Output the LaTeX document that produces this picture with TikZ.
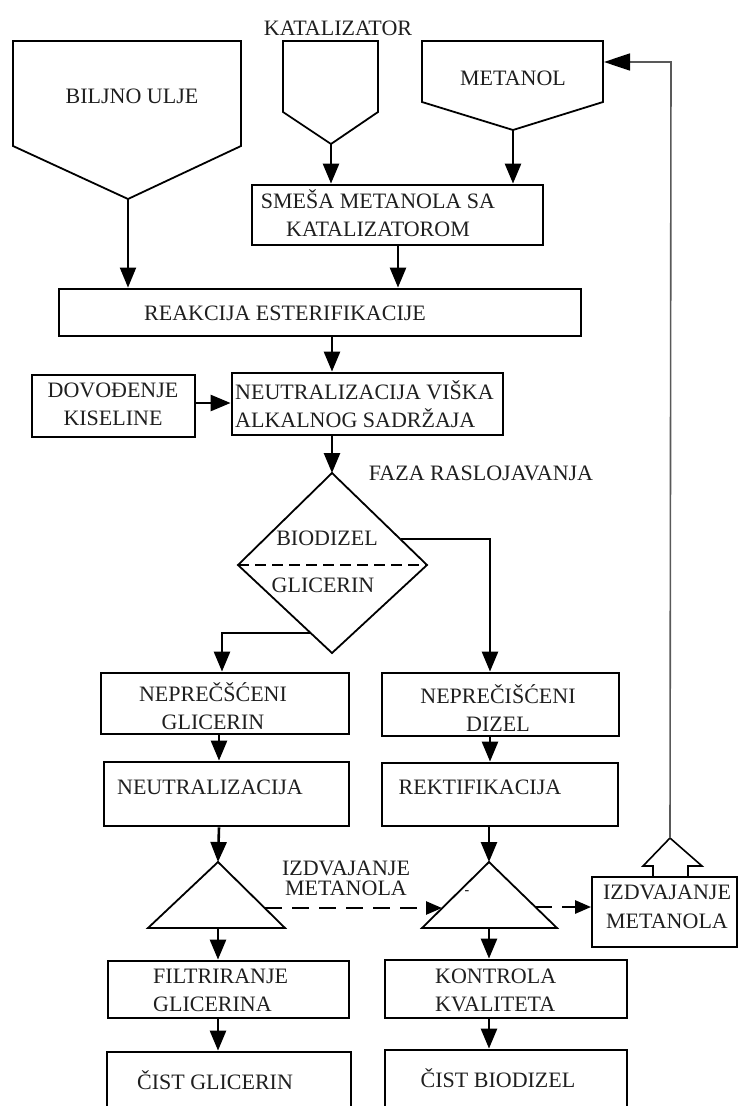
\documentclass[tikz,border=0pt]{standalone}
\usepackage{fontspec}
\setmainfont{Liberation Serif}
\usetikzlibrary{arrows.meta}
\newcommand\myff{\fontsize{22}{28}\selectfont}
\newcommand\myffs{\fontsize{22}{20}\selectfont}
\newcommand\myffw{\fontsize{22}{29}\selectfont}
\tikzset{
  txt/.style={inner sep=0pt, font=\myff, align=center, text=black!88},
  box/.style={draw, line width=2.8pt, inner sep=0pt},
  outl/.style={draw, line width=1.8pt, line join=miter},
  conn/.style={line width=2.6pt, -{Triangle[length=20pt,width=16pt]}},
  dconn/.style={line width=2.6pt, dash pattern=on 17pt off 10pt, -{Triangle[length=16pt,width=13pt]}},
}
\begin{document}
\begin{tikzpicture}[x=1pt,y=-1pt]
\useasboundingbox (0,0) rectangle (739,1106);
\clip (0,0) rectangle (739,1106);
% ---------- pentagons ----------
\coordinate (biB) at (128,199);
\draw[outl] (13,41) -- (241,41) -- (241,146) -- (biB) -- (13,146) -- cycle;
\node[txt] (biljnoT) at (132,96) {BILJNO ULJE};
\coordinate (kaB) at (331,144);
\draw[outl] (283,41) -- (378,41) -- (378,112) -- (kaB) -- (283,112) -- cycle;
\node[txt] (katT) at (338,28) {KATALIZATOR};
\coordinate (meB) at (513,130);
\coordinate (meR) at (604,62);
\draw[outl] (422,41) -- (603,41) -- (603,102) -- (meB) -- (422,102) -- cycle;
\node[txt] (metT) at (513,78) {METANOL};
% ---------- boxes ----------
\node[box, minimum width=291, minimum height=60] (smesa) at (397.5,215) {};
\node[txt] (smesaT) at (378,213) {SMEŠA METANOLA SA\\KATALIZATOROM};
\node[box, minimum width=522, minimum height=47] (reak) at (320,312.5) {};
\node[txt] (reakT) at (285,313) {REAKCIJA ESTERIFIKACIJE};
\node[box, minimum width=271, minimum height=62] (neu1) at (367.5,404) {};
\node[txt, align=left, anchor=west] (neu1T) at (235,404) {NEUTRALIZACIJA VIŠKA\\ALKALNOG SADRŽAJA};
\node[box, minimum width=163, minimum height=62] (dov) at (113.5,406) {};
\node[txt] (dovT) at (113,404) {DOVOĐENJE\\KISELINE};
\node[txt] (fazaT) at (481,473) {FAZA RASLOJAVANJA};
\node[box, minimum width=248, minimum height=61] (nepgl) at (225,703.5) {};
\node[txt] (nepglT) at (213,706) {NEPREČŠĆENI\\GLICERIN};
\node[box, minimum width=237, minimum height=63] (nepdz) at (500.5,704.5) {};
\node[txt] (nepdzT) at (498,708) {NEPREČIŠĆENI\\DIZEL};
\node[box, minimum width=245, minimum height=64] (neu2) at (226.5,794) {};
\node[txt] (neu2T) at (210,787) {NEUTRALIZACIJA};
\node[box, minimum width=236, minimum height=63] (rekt) at (500,794.5) {};
\node[txt] (rektT) at (480,787) {REKTIFIKACIJA};
\node[box, minimum width=241, minimum height=57] (filt) at (228.5,989.5) {};
\node[txt, align=left, anchor=west] (filtT) at (153,990) {FILTRIRANJE\\GLICERINA};
\node[box, minimum width=242, minimum height=58] (kontr) at (506,989) {};
\node[txt, align=left, anchor=west] (kontrT) at (435,990) {KONTROLA\\KVALITETA};
\node[box, minimum width=244, minimum height=74] (cistgl) at (229,1089) {};
\node[txt] (cistglT) at (215,1080) {ČIST GLICERIN};
\node[box, minimum width=242, minimum height=76] (cistbd) at (506,1088) {};
\node[txt] (cistbdT) at (498,1078) {ČIST BIODIZEL};
\node[box, line width=1.8pt, minimum width=145, minimum height=70] (izdv) at (664.5,912) {};
\node[txt, font=\myffw] (izdvT) at (667,907) {IZDVAJANJE\\METANOLA};
% ---------- diamond ----------
\coordinate (dT) at (332,473);
\coordinate (dR) at (427,565);
\coordinate (dB) at (332,653);
\coordinate (dL) at (238,565);
\draw[outl] (dT) -- (dR) -- (dB) -- (dL) -- cycle;
\draw[line width=2.6pt, dash pattern=on 11pt off 6pt] (dL) -- (dR);
\node[txt] (bioT) at (327,538) {BIODIZEL};
\node[txt] (gliT) at (323,585) {GLICERIN};
\coordinate (dexR) at (401,539);
\coordinate (dexL) at (311,633);
% ---------- triangles ----------
\coordinate (tLa) at (218,862);
\coordinate (tLb) at (218,928);
\coordinate (tLe) at (265,908);
\draw[outl] (tLa) -- (285,928) -- (148,928) -- cycle;
\coordinate (tRa) at (489,862);
\coordinate (tRb) at (489,928);
\coordinate (tRw) at (442,908);
\coordinate (tRe) at (535,907);
\draw[outl] (tRa) -- (557,928) -- (422,928) -- cycle;
\node[inner sep=0pt, font=\fontsize{14}{14}\selectfont] (minus) at (467,893) {-};
\node[txt, font=\myffs] (izdvMT) at (346,878) {IZDVAJANJE\\METANOLA};
% ---------- columns ----------
\coordinate (colL) at (219,0);
\coordinate (colR) at (489,0);
% ---------- connectors ----------
\draw[conn, line width=2pt] (biB) -- (biB |- reak.north);
\draw[conn] (kaB) -- (kaB |- smesa.north);
\draw[conn] (meB) -- (meB |- smesa.north);
\draw[conn] (smesa.south -| 398,0) -- (reak.north -| 398,0);
\draw[conn] (reak.south -| 332,0) -- (neu1.north -| 332,0);
\draw[conn] (dov.east |- 0,403) -- (neu1.west |- 0,403);
\draw[conn] (neu1.south -| dT) -- (dT);
\draw[conn] (dexR) -| (nepdz.north -| 490,0);
\draw[conn] (dexL) -| (nepgl.north -| 222,0);
\draw[conn] (nepgl.south -| colL) -- (neu2.north -| colL);
\draw[conn] (neu2.south -| colL) -- (tLa);
\draw[conn] (tLb) -- (filt.north -| tLb);
\draw[conn] (filt.south -| tLb) -- (cistgl.north -| tLb);
\draw[conn] (nepdz.south -| 490,0) -- (rekt.north -| 490,0);
\draw[conn] (rekt.south -| tRa) -- (tRa);
\draw[conn] (tRb) -- (kontr.north -| tRb);
\draw[conn] (kontr.south -| tRb) -- (cistbd.north -| tRb);
\draw[dconn] (tLe) -- (tRw);
\draw[dconn] (tRe) -- (izdv.west |- tRe);
% ---------- return arrow ----------
\coordinate (hat) at (670,838);
\draw[line width=1.6pt, line join=miter] (653,877) -- (653,866) -- (643,866) -- (hat) -- (702,866) -- (688,866) -- (688,877);
\draw[line width=1.6pt, draw=black!65, -{Triangle[length=26pt,width=17pt,color=black]}] (hat) -- (671,62) -- (meR);
\end{tikzpicture}
\end{document}
